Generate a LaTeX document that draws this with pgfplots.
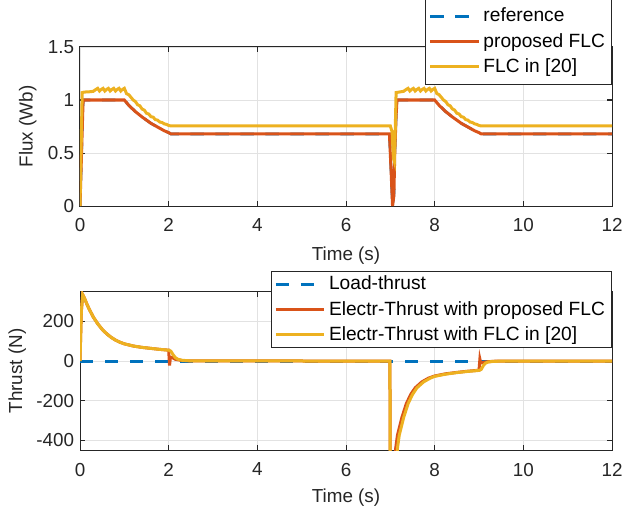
\documentclass[border=0pt]{standalone}
\usepackage{pgfplots}
\pgfplotsset{compat=1.18}
\usepackage{fontspec}
\setmainfont{Liberation Sans}

\definecolor{mblue}{rgb}{0,0.447,0.741}
\definecolor{mred}{rgb}{0.85,0.325,0.098}
\definecolor{myellow}{rgb}{0.929,0.694,0.125}
\definecolor{axgray}{rgb}{0.15,0.15,0.15}
\definecolor{gridgray}{rgb}{0.885,0.885,0.885}

\pgfplotsset{
  mstyle/.style={
    scale only axis,
    width=319.2pt,
    xmin=0, xmax=12,
    xtick={0,2,...,12},
    grid=major,
    major grid style={gridgray, line width=0.5pt},
    axis line style={axgray, line width=0.6pt},
    tick style={axgray, line width=0.6pt},
    major tick length=3pt,
    tick align=inside,
    xtick pos=both, ytick pos=both,
    tick label style={font=\fontsize{11.3}{13}\selectfont, text=axgray},
    xticklabel style={yshift=-4pt},
    label style={font=\fontsize{11.3}{13}\selectfont, text=axgray},
    /pgf/number format/assume math mode=true,
    legend cell align=left,
    legend style={draw=axgray, line width=0.5pt, fill=white,
      font=\fontsize{11.5}{13}\selectfont, text=black,
      inner xsep=2pt, inner ysep=1pt, row sep=1.2pt},
    legend image code/.code={\draw[##1] (0pt,0pt) -- (29pt,0pt);},
    xlabel={Time (s)},
  },
}

\begin{document}
\begin{tikzpicture}
\useasboundingbox (0,0) rectangle (374.4pt,306pt);

% ---------------- Flux ----------------
\begin{axis}[mstyle,
  at={(48pt,182.4pt)}, anchor=south west,
  height=95.4pt,
  ymin=0, ymax=1.5, ytick={0,0.5,1,1.5},
  ylabel={Flux (Wb)},
  ylabel style={at={(axis description cs:-0.098,0.5)}, anchor=center},
  xlabel style={at={(axis description cs:0.5,-0.315)}, anchor=center},
  legend style={at={(axis description cs:1,0.761)}, anchor=south east,
    inner ysep=4pt},
]
% reference flux, followed closely by the proposed controller
\addplot[mblue, line width=1.6pt, dash pattern=on 8pt off 7pt] coordinates {
 (0,0) (0.07,1.0) (1.0,1.0) (1.1,0.95) (1.25,0.89) (1.4,0.84) (1.5,0.81)
 (1.6,0.78) (1.75,0.745) (1.9,0.71) (2.0,0.692) (2.05,0.68) (6.98,0.68)
 (7.02,0.3) (7.05,0) (7.08,0.1) (7.10,0.5) (7.13,0.85) (7.15,1.0)
 (8.0,1.0) (8.1,0.95) (8.25,0.89) (8.4,0.84) (8.5,0.81)
 (8.6,0.78) (8.75,0.745) (8.9,0.71) (9.0,0.692) (9.05,0.68) (12,0.68)};
\addlegendentry{reference}
\addplot[mred, line width=1.8pt] coordinates {
 (0,0) (0.07,1.0) (1.0,1.0) (1.1,0.95) (1.25,0.89) (1.4,0.84) (1.5,0.81)
 (1.6,0.78) (1.75,0.745) (1.9,0.71) (2.0,0.692) (2.05,0.68) (6.98,0.68)
 (7.02,0.3) (7.05,0) (7.08,0.1) (7.10,0.5) (7.13,0.85) (7.15,1.0)
 (8.0,1.0) (8.1,0.95) (8.25,0.89) (8.4,0.84) (8.5,0.81)
 (8.6,0.78) (8.75,0.745) (8.9,0.71) (9.0,0.692) (9.05,0.68) (12,0.68)};
\addlegendentry{proposed FLC}
\addplot[myellow, line width=1.8pt] coordinates {
 (0,0) (0.05,1.07) (0.1,1.075) (0.2,1.077) (0.3,1.082)
 (0.36,1.10) (0.40,1.11) (0.44,1.085) (0.48,1.10) (0.52,1.11) (0.56,1.085)
 (0.60,1.10) (0.64,1.11) (0.68,1.085) (0.72,1.10) (0.76,1.11) (0.80,1.085)
 (0.84,1.10) (0.88,1.11) (0.92,1.085) (0.96,1.10) (1.0,1.11)
 (1.05,1.06) (1.10,1.05) (1.15,1.025) (1.20,1.00) (1.25,0.985) (1.30,0.955)
 (1.35,0.945) (1.40,0.915) (1.45,0.905) (1.50,0.875) (1.55,0.868) (1.60,0.843)
 (1.65,0.838) (1.70,0.815) (1.75,0.810) (1.80,0.792) (1.85,0.788) (1.90,0.775)
 (1.95,0.770) (2.0,0.760) (2.05,0.755)
 (7.0,0.755) (7.04,0.70) (7.07,0.45) (7.09,0.42) (7.11,0.70) (7.13,1.07)
 (7.2,1.075) (7.3,1.082)
 (7.36,1.10) (7.40,1.11) (7.44,1.085) (7.48,1.10) (7.52,1.11) (7.56,1.085)
 (7.60,1.10) (7.64,1.11) (7.68,1.085) (7.72,1.10) (7.76,1.11) (7.80,1.085)
 (7.84,1.10) (7.88,1.11) (7.92,1.085) (7.96,1.10) (8.0,1.11)
 (8.05,1.06) (8.10,1.05) (8.15,1.025) (8.20,1.00) (8.25,0.985) (8.30,0.955)
 (8.35,0.945) (8.40,0.915) (8.45,0.905) (8.50,0.875) (8.55,0.868) (8.60,0.843)
 (8.65,0.838) (8.70,0.815) (8.75,0.810) (8.80,0.792) (8.85,0.788) (8.90,0.775)
 (8.95,0.770) (9.0,0.760) (9.05,0.755) (12,0.755)};
\addlegendentry{FLC in [20]}
\end{axis}

% ---------------- Thrust ----------------
\begin{axis}[mstyle,
  at={(48pt,35.8pt)}, anchor=south west,
  height=95.2pt,
  ymin=-450, ymax=350, ytick={-400,-200,0,200},
  ylabel={Thrust (N)},
  ylabel style={at={(axis description cs:-0.118,0.5)}, anchor=center},
  xlabel style={at={(axis description cs:0.5,-0.30)}, anchor=center},
  legend style={at={(axis description cs:1,0.645)}, anchor=south east},
]
\addplot[mblue, line width=1.8pt, dash pattern=on 8pt off 7pt] coordinates {
 (0,0) (12,0)};
\addlegendentry{Load-thrust}
\addplot[mred, line width=1.8pt] coordinates {
 (0,0) (0.03,250) (0.06,335) (0.1,318) (0.15,290) (0.2,265) (0.3,222)
 (0.4,188) (0.5,160) (0.6,138) (0.7,120) (0.8,106) (0.9,95) (1.0,87)
 (1.2,76) (1.4,69) (1.6,64) (1.8,59) (2.0,55) (2.02,-22) (2.04,20)
 (2.08,18) (2.15,9) (2.3,3) (2.5,1) (6.99,0) (7.0,-600) (7.10,-600)
 (7.12,-440) (7.16,-375) (7.26,-285) (7.36,-215) (7.46,-168) (7.56,-135)
 (7.71,-105) (7.86,-86) (8.0,-75) (8.25,-64) (8.5,-57) (8.75,-51)
 (9.0,-46) (9.02,10) (9.04,-10) (9.1,-6) (9.2,-3) (9.4,0) (12,0)};
\addlegendentry{Electr-Thrust with proposed FLC}
\addplot[myellow, line width=1.8pt] coordinates {
 (0,0) (0.03,250) (0.06,335) (0.1,318) (0.15,290) (0.2,265) (0.3,222)
 (0.4,188) (0.5,160) (0.6,138) (0.7,120) (0.8,106) (0.9,95) (1.0,87)
 (1.2,76) (1.4,69) (1.6,64) (1.8,59) (2.0,55) (2.05,50) (2.1,32)
 (2.15,18) (2.2,10) (2.3,4) (2.5,1) (6.99,0) (7.0,-600) (7.14,-600)
 (7.16,-440) (7.2,-375) (7.3,-285) (7.4,-215) (7.5,-168) (7.6,-135)
 (7.75,-105) (7.9,-86) (8.0,-77) (8.25,-66) (8.5,-58) (8.75,-52)
 (9.0,-47) (9.05,-42) (9.1,-22) (9.15,-10) (9.2,-5) (9.3,-2) (9.5,0) (12,0)};
\addlegendentry{Electr-Thrust with FLC in [20]}
\end{axis}
\end{tikzpicture}
\end{document}
